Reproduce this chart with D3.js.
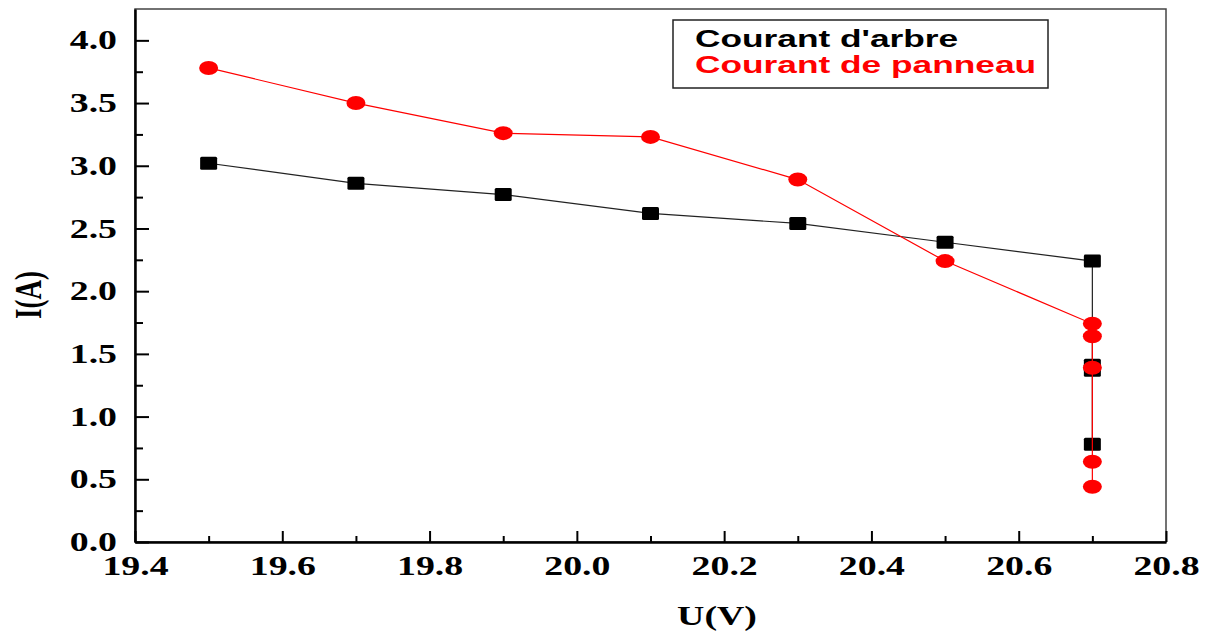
<!DOCTYPE html>
<html>
<head>
<meta charset="utf-8">
<script src="https://cdn.jsdelivr.net/npm/d3@7"></script>
<style>
  body { margin: 0; background: #fff; }
  svg { display: block; }
</style>
</head>
<body>
<div id="chart"></div>
<script>
// U(V) values and currents
const arbreU = [19.5, 19.7, 19.9, 20.1, 20.3, 20.5, 20.7, 20.7, 20.7, 20.7];
const arbreI = [3.02, 2.86, 2.77, 2.62, 2.54, 2.39, 2.24, 1.41, 1.37, 0.78];
const panneauU = [19.5, 19.7, 19.9, 20.1, 20.3, 20.5, 20.7, 20.7, 20.7, 20.7, 20.7];
const panneauI = [3.78, 3.50, 3.26, 3.23, 2.89, 2.24, 1.74, 1.64, 1.39, 0.64, 0.44];

const xTicks = [19.4, 19.6, 19.8, 20.0, 20.2, 20.4, 20.6, 20.8];
const xMinor = [19.5, 19.7, 19.9, 20.1, 20.3, 20.5, 20.7];
const yTicks = [0, 0.5, 1.0, 1.5, 2.0, 2.5, 3.0, 3.5, 4.0];
const yMinor = [0.25, 0.75, 1.25, 1.75, 2.25, 2.75, 3.25, 3.75];

const legendLabels = ["Courant d'arbre", "Courant de panneau"];
const legendColors = ["#000", "#ff0000"];

const width = 1215, height = 633;
const margin = { top: 9, right: 49, bottom: 91, left: 135 };
const innerWidth = width - margin.left - margin.right;
const innerHeight = height - margin.top - margin.bottom;
const stretch = 1.4; // the source text is drawn wide

const svg = d3.select("#chart")
    .append("svg")
    .attr("width", width)
    .attr("height", height);

const g = svg.append("g")
    .attr("transform", `translate(${margin.left},${margin.top})`);

const x = d3.scaleLinear().domain([19.4, 20.8]).range([0, innerWidth]);
const y = d3.scaleLinear().domain([0, 4.25]).range([innerHeight, 0]);

// widen text horizontally without moving its anchor
function widen(sel, k) {
    sel.each(function () {
        const w = this.getComputedTextLength();
        d3.select(this)
            .attr("textLength", w * k)
            .attr("lengthAdjust", "spacingAndGlyphs");
    });
}

// frame (top / right)
g.append("rect")
    .attr("width", innerWidth)
    .attr("height", innerHeight)
    .attr("fill", "none")
    .attr("stroke", "#444")
    .attr("stroke-width", 1.5);

const serif = "'Liberation Serif', 'Times New Roman', serif";

// minor ticks (no labels)
g.append("g")
    .attr("transform", `translate(0,${innerHeight})`)
    .call(d3.axisBottom(x).tickValues(xMinor).tickSizeInner(-6).tickSizeOuter(0))
    .call(a => a.select(".domain").remove())
    .call(a => a.selectAll("text").remove())
    .selectAll("line").attr("stroke-width", 2);

g.append("g")
    .call(d3.axisLeft(y).tickValues(yMinor).tickSizeInner(-8).tickSizeOuter(0))
    .call(a => a.select(".domain").remove())
    .call(a => a.selectAll("text").remove())
    .selectAll("line").attr("stroke-width", 2);

// X axis
const xAxis = g.append("g")
    .attr("transform", `translate(0,${innerHeight})`)
    .call(d3.axisBottom(x).tickValues(xTicks).tickSizeInner(-11).tickSizeOuter(0)
        .tickPadding(14).tickFormat(d3.format(".1f")));
xAxis.select(".domain").attr("stroke-width", 2.5);
xAxis.selectAll("line").attr("stroke-width", 2);
xAxis.selectAll("text")
    .style("font-family", serif)
    .style("font-weight", "bold")
    .style("font-size", "27px")
    .attr("fill", "#000")
    .call(widen, stretch);

// Y axis
const yAxis = g.append("g")
    .call(d3.axisLeft(y).tickValues(yTicks).tickSizeInner(-14).tickSizeOuter(0)
        .tickPadding(18).tickFormat(d3.format(".1f")));
yAxis.select(".domain").attr("stroke-width", 2.5);
yAxis.selectAll("line").attr("stroke-width", 2);
yAxis.selectAll("text")
    .style("font-family", serif)
    .style("font-weight", "bold")
    .style("font-size", "27px")
    .attr("fill", "#000")
    .call(widen, stretch);

// Axis titles
svg.append("text")
    .attr("x", 717)
    .attr("y", 625)
    .attr("text-anchor", "middle")
    .style("font-family", serif)
    .style("font-weight", "bold")
    .style("font-size", "27px")
    .text("U(V)")
    .call(widen, stretch);

svg.append("text")
    .attr("transform", `translate(41,295) scale(${stretch},1) rotate(-90)`)
    .attr("text-anchor", "middle")
    .style("font-family", serif)
    .style("font-weight", "bold")
    .style("font-size", "27px")
    .text("I(A)");

// Series
const line = d3.line().x(d => x(d.u)).y(d => y(d.i));
const arbre = arbreU.map((u, k) => ({ u: u, i: arbreI[k] }));
const panneau = panneauU.map((u, k) => ({ u: u, i: panneauI[k] }));

g.append("path")
    .datum(arbre)
    .attr("d", line)
    .attr("fill", "none")
    .attr("stroke", "#222")
    .attr("stroke-width", 1.2);

g.selectAll(".sq")
    .data(arbre)
    .enter()
    .append("rect")
    .attr("class", "sq")
    .attr("x", d => x(d.u) - 8.5)
    .attr("y", d => y(d.i) - 6.5)
    .attr("width", 17)
    .attr("height", 13)
    .attr("rx", 1.5)
    .attr("fill", "#000");

g.append("path")
    .datum(panneau)
    .attr("d", line)
    .attr("fill", "none")
    .attr("stroke", "#ff0000")
    .attr("stroke-width", 1.2);

g.selectAll(".dot")
    .data(panneau)
    .enter()
    .append("ellipse")
    .attr("class", "dot")
    .attr("cx", d => x(d.u))
    .attr("cy", d => y(d.i))
    .attr("rx", 9.5)
    .attr("ry", 7)
    .attr("fill", "#ff0000");

// Legend
svg.append("rect")
    .attr("x", 673)
    .attr("y", 20)
    .attr("width", 375)
    .attr("height", 68)
    .attr("fill", "#fff")
    .attr("stroke", "#222")
    .attr("stroke-width", 1.5);

legendLabels.forEach((lab, k) => {
    svg.append("text")
        .attr("x", 695)
        .attr("y", 47 + k * 26)
        .style("font-family", "'Liberation Sans', Arial, sans-serif")
        .style("font-weight", "bold")
        .style("font-size", "24px")
        .attr("fill", legendColors[k])
        .text(lab)
        .call(widen, 1.47);
});
</script>
</body>
</html>
